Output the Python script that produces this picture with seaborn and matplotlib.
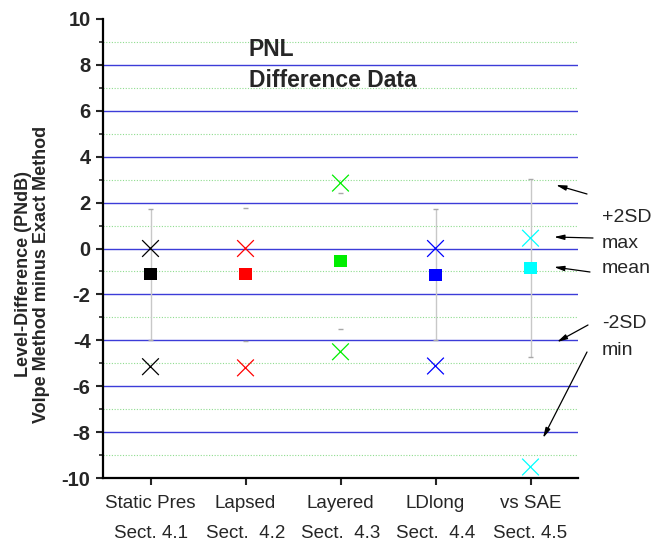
import numpy as np
import pandas as pd
import matplotlib
matplotlib.use("Agg")
import matplotlib.pyplot as plt
import seaborn as sns

# values (PNdB)
categories = ["Static Pres\nSect. 4.1", "Lapsed\nSect.  4.2", "Layered\nSect.  4.3",
              "LDlong\nSect.  4.4", "vs SAE\nSect. 4.5"]
mean_vals = [-1.12, -1.12, -0.55, -1.15, -0.85]
max_vals = [0.0, 0.0, 2.85, 0.0, 0.45]
min_vals = [-5.15, -5.2, -4.5, -5.12, -9.52]
plus2sd = [1.72, 1.76, 2.42, 1.72, 3.03]
minus2sd = [-3.98, -4.02, -3.5, -3.99, -4.73]
colors = ["#000000", "#ff0000", "#00ee00", "#0000ff", "#00ffff"]
# whisker line shows only for some series in the original
whisker_alpha = [1.0, 0.0, 0.0, 1.0, 1.0]

sns.set_style("white")
plt.rcParams['font.family'] = ['Liberation Sans', 'DejaVu Sans']

df = pd.DataFrame({
    'pos': np.arange(len(categories)),
    'Category': categories,
    'mean': mean_vals,
    'max': max_vals,
    'min': min_vals,
    'hi': plus2sd,
    'lo': minus2sd,
})
palette = dict(zip(categories, colors))

fig = plt.figure(figsize=(6.61, 5.44), dpi=100)
ax = fig.add_axes([103 / 661, 1 - 478 / 544, 475 / 661, 459 / 544])

# grid: blue solid at even values, green dotted at odd values
for y in range(-8, 10, 2):
    ax.axhline(y, color='#3c3cd8', lw=1.0, zorder=0)
for y in range(-9, 10, 2):
    ax.axhline(y, color='#8fdc8f', lw=0.8, ls=(0, (1, 1.5)), zorder=0)

# +/-2SD whiskers with small caps
for i, row in df.iterrows():
    ax.vlines(row['pos'], row['lo'], row['hi'], color='#c8c8c8', lw=1.0,
              alpha=whisker_alpha[i], zorder=1)
    ax.hlines([row['lo'], row['hi']], row['pos'] - 0.025, row['pos'] + 0.025,
              color='#a8a8a8', lw=1.0, zorder=1)

ext = pd.concat([df[['pos', 'Category', 'max']].rename(columns={'max': 'val'}),
                 df[['pos', 'Category', 'min']].rename(columns={'min': 'val'})])
sns.scatterplot(data=ext, x='pos', y='val', hue='Category', palette=palette,
                marker='x', s=145, linewidth=0.9, legend=False, ax=ax, zorder=3)
sns.scatterplot(data=df, x='pos', y='mean', hue='Category', palette=palette,
                marker='s', s=78, linewidth=0, legend=False, ax=ax, zorder=3)

ax.set_xlim(-0.5, 4.5)
ax.set_ylim(-10, 10)
ax.set_xticks(df['pos'])
ax.set_xticklabels(categories, fontsize=13.5)
for lab in ax.get_xticklabels():
    lab.set_linespacing(2.05)
ax.set_yticks(range(-10, 11, 2))
ax.set_yticks(range(-9, 10, 2), minor=True)
ax.set_yticklabels([str(v) for v in range(-10, 11, 2)], fontsize=14.5, fontweight='bold')
ax.tick_params(axis='y', which='major', direction='out', length=5, width=1.5, pad=4, left=True)
ax.tick_params(axis='y', which='minor', direction='out', length=3, width=1.2, left=True)
ax.tick_params(axis='x', which='major', direction='out', length=5, width=1.5, pad=7, bottom=True)

for side in ['top', 'right']:
    ax.spines[side].set_visible(False)
for side in ['left', 'bottom']:
    ax.spines[side].set_linewidth(1.6)
    ax.spines[side].set_color('black')

ax.set_xlabel('')
ax.set_ylabel('Level-Difference (PNdB)\nVolpe Method minus Exact Method',
              fontsize=13, fontweight='bold', linespacing=1.05)
ax.yaxis.set_label_coords(-0.112, 0.444)

fig.text(249 / 661, 1 - 56 / 544, 'PNL', fontsize=16.5, fontweight='bold', va='baseline')
fig.text(249 / 661, 1 - 87 / 544, 'Difference Data', fontsize=16.5, fontweight='bold', va='baseline')

# legend-like notes on the right with arrows
notes = [('+2SD', 222), ('max', 248), ('mean', 273), ('-2SD', 328), ('min', 355)]
for txt, yb in notes:
    fig.text(602 / 661, 1 - yb / 544, txt, fontsize=14, va='baseline')

arrows = [((587, 194), (556, 185)), ((593, 238), (554, 237)), ((590, 272), (554, 267)),
          ((588, 325), (557, 342)), ((587, 352), (543, 438))]
for (tx, ty), (hx, hy) in arrows:
    ax.annotate('', xy=(hx / 661, 1 - hy / 544), xycoords='figure fraction',
                xytext=(tx / 661, 1 - ty / 544), textcoords='figure fraction',
                arrowprops=dict(arrowstyle='-|>,head_length=0.6,head_width=0.15',
                                color='black', lw=0.9, shrinkA=0, shrinkB=0),
                annotation_clip=False)

fig.savefig('out.png', dpi=100)
